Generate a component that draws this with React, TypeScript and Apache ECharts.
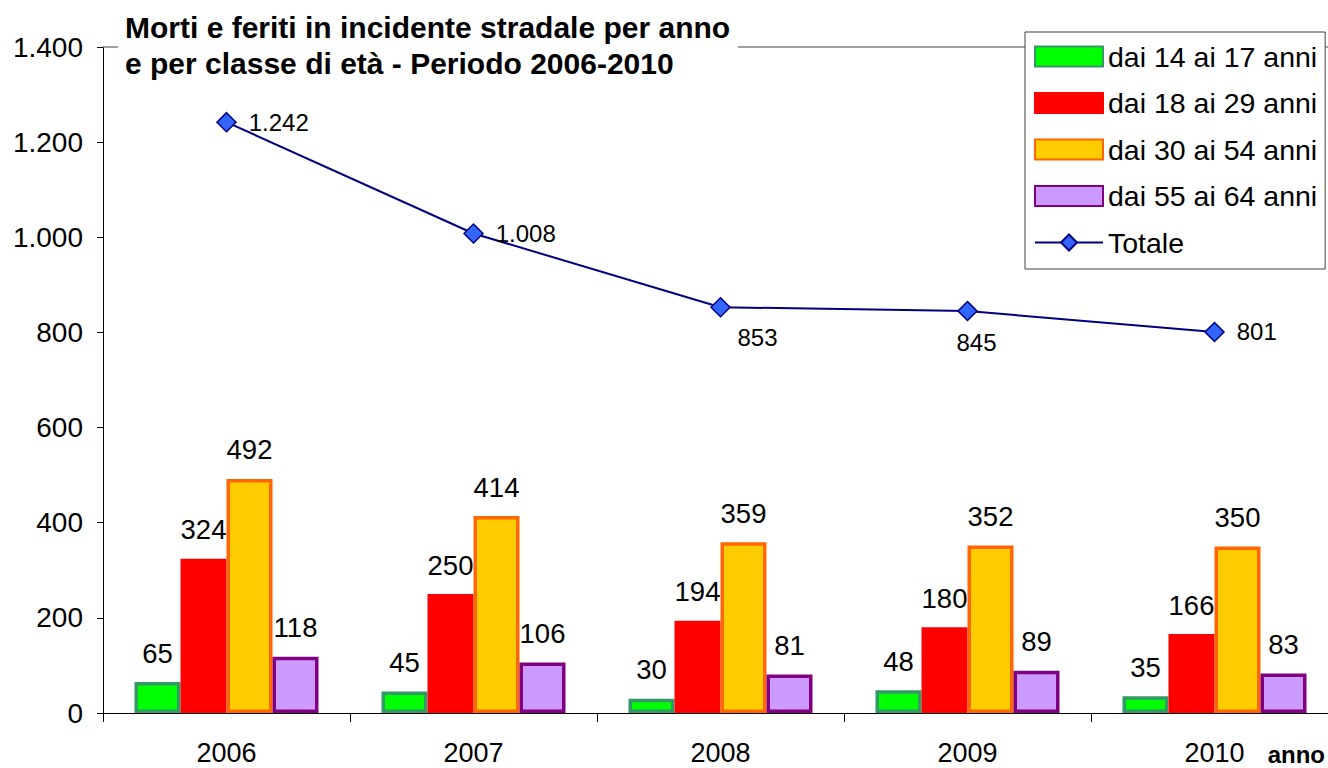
import React, { useEffect, useRef } from "react";
import * as echarts from "echarts";

const years = ["2006", "2007", "2008", "2009", "2010"];
const age14to17 = [65, 45, 30, 48, 35];
const age18to29 = [324, 250, 194, 180, 166];
const age30to54 = [492, 414, 359, 352, 350];
const age55to64 = [118, 106, 81, 89, 83];
const totale = [1242, 1008, 853, 845, 801];
const yTicks = { min: 0, max: 1400, interval: 200 };

const FONT = "'Liberation Sans', Arial, sans-serif";

const fmt = (v: number) => String(v).replace(/\B(?=(\d{3})+(?!\d))/g, ".");

// label placement for the total line (styling only)
const totalLabelPlacement: any[] = [
  { position: "right", distance: 12 },
  { position: "right", distance: 12 },
  { position: "bottom", distance: 12, offset: [37, -4] },
  { position: "bottom", distance: 14, offset: [9, -5] },
  { position: "right", distance: 12 },
];

export default function App() {
  const ref = useRef<HTMLDivElement>(null);
  useEffect(() => {
    if (!ref.current) return;
    const chart = echarts.init(ref.current, undefined, { renderer: "svg" });
    const barLabel = {
      show: true,
      position: "top",
      distance: 15,
      color: "#000",
      fontSize: 27.5,
      fontFamily: FONT,
    };
    const mkBar = (name: string, data: number[], fill: string, border: string) => ({
      name,
      type: "bar",
      data,
      barWidth: 46,
      barGap: "0%",
      itemStyle: { color: fill, borderColor: border, borderWidth: 3.5 },
      label: barLabel,
    });
    chart.setOption({
      animation: false,
      backgroundColor: "#fff",
      textStyle: { fontFamily: FONT },
      title: {
        text: "Morti e feriti in incidente stradale per anno\ne per classe di età - Periodo 2006-2010",
        left: 118,
        top: 4,
        padding: [5, 8, 4, 7],
        backgroundColor: "#fff",
        textStyle: {
          fontFamily: FONT,
          fontSize: 30,
          fontWeight: "bold",
          lineHeight: 36,
          color: "#000",
        },
        z: 10,
      },
      legend: {
        left: 1025,
        top: 32,
        orient: "vertical",
        backgroundColor: "#fff",
        borderColor: "#404040",
        borderWidth: 1,
        padding: [10, 8, 12, 9],
        itemWidth: 68,
        itemHeight: 20,
        itemGap: 17.5,
        textStyle: { fontSize: 28.5, fontFamily: FONT, color: "#000", lineHeight: 28 },
        data: [
          { name: "dai 14 ai 17 anni", icon: "rect" },
          { name: "dai 18 ai 29 anni", icon: "rect" },
          { name: "dai 30 ai 54 anni", icon: "rect" },
          { name: "dai 55 ai 64 anni", icon: "rect" },
          { name: "Totale" },
        ],
        z: 10,
      },
      grid: {
        left: 103,
        width: 1235,
        top: 47,
        height: 666,
        containLabel: false,
        outerBoundsMode: "none",
      },
      xAxis: [
        {
          type: "category",
          data: years,
          boundaryGap: true,
          axisLine: { show: true, lineStyle: { color: "#000", width: 1 } },
          axisTick: { show: true, length: 9, inside: false, lineStyle: { color: "#000" } },
          axisLabel: { fontSize: 27, color: "#000", margin: 26, fontFamily: FONT },
          splitLine: { show: false },
        },
        {
          type: "category",
          data: years,
          position: "top",
          axisLine: { show: true, lineStyle: { color: "#808080", width: 1.5 } },
          axisTick: { show: false },
          axisLabel: { show: false },
        },
      ],
      yAxis: {
        type: "value",
        min: yTicks.min,
        max: yTicks.max,
        interval: yTicks.interval,
        axisLine: { show: true, lineStyle: { color: "#000", width: 1 } },
        axisTick: { show: true, length: 6, inside: false, lineStyle: { color: "#000" } },
        axisLabel: {
          fontSize: 28,
          color: "#000",
          margin: 20,
          fontFamily: FONT,
          formatter: (v: number) => fmt(v),
        },
        splitLine: { show: false },
      },
      series: [
        mkBar("dai 14 ai 17 anni", age14to17, "#00FF00", "#339966"),
        mkBar("dai 18 ai 29 anni", age18to29, "#FF0000", "#FF0000"),
        mkBar("dai 30 ai 54 anni", age30to54, "#FFCC00", "#FF6600"),
        mkBar("dai 55 ai 64 anni", age55to64, "#CC99FF", "#800080"),
        {
          name: "Totale",
          type: "line",
          data: totale.map((v, i) => ({ value: v, label: totalLabelPlacement[i] })),
          symbol: "diamond",
          symbolSize: [19, 19],
          lineStyle: { color: "#000080", width: 2 },
          itemStyle: { color: "#3366FF", borderColor: "#000080", borderWidth: 1.5 },
          label: {
            show: true,
            color: "#000",
            fontSize: 24,
            fontFamily: FONT,
            formatter: (p: any) => fmt(p.value),
          },
          z: 5,
        },
      ],
      graphic: [
        {
          type: "text",
          right: 3,
          top: 742,
          style: {
            text: "anno",
            font: `bold 24px ${FONT}`,
            fill: "#000",
          },
        },
      ],
    });
    return () => chart.dispose();
  }, []);
  return (
    <div
      ref={ref}
      style={{ position: "fixed", left: 0, top: 0, width: 1328, height: 768 }}
    />
  );
}
